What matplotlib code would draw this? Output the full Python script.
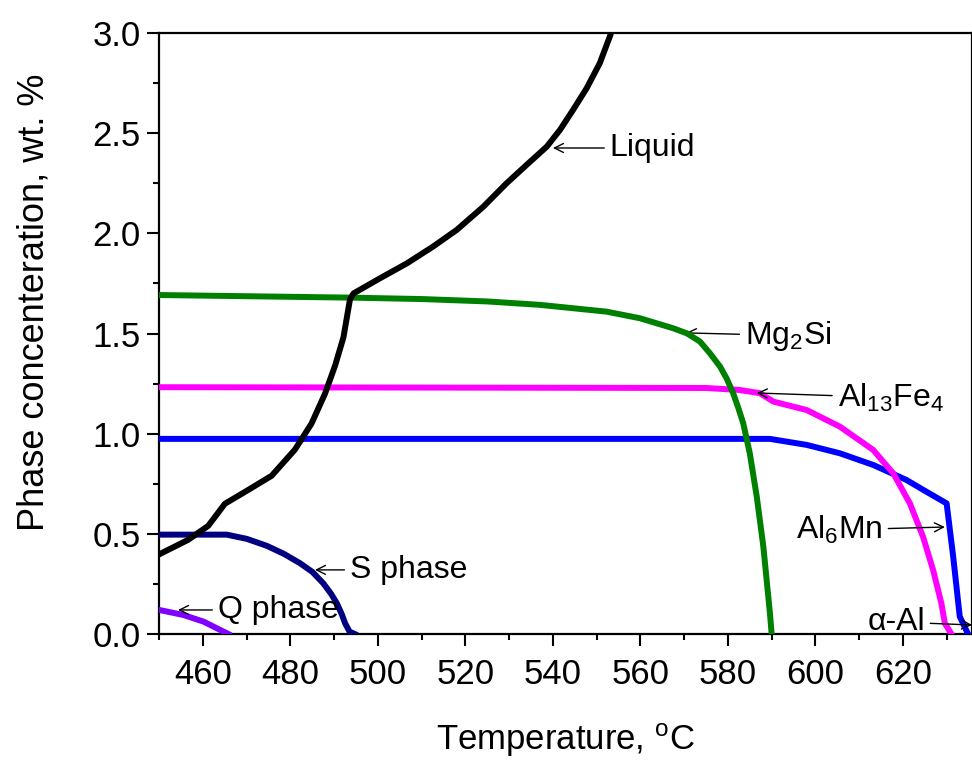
import matplotlib
matplotlib.use("Agg")
import matplotlib.pyplot as plt
from matplotlib.ticker import MultipleLocator

plt.rcParams['font.family'] = ['Liberation Sans', 'DejaVu Sans']
plt.rcParams['mathtext.fontset'] = 'custom'
plt.rcParams['mathtext.rm'] = 'Liberation Sans'
plt.rcParams['mathtext.it'] = 'Liberation Sans'

# ---- data ----
liquid_T = [450.2, 456.6, 461.2, 465.0, 470.4, 475.7, 481.0, 484.8, 487.9, 490.2, 492.1, 493.6,
            494.4, 500.5, 506.6, 512.6, 518.0, 524.1, 529.4, 534.0, 538.6, 541.6, 544.6,
            547.7, 550.7, 553.0, 555.3]
liquid_c = [0.40, 0.47, 0.54, 0.65, 0.72, 0.79, 0.92, 1.05, 1.20, 1.34, 1.48, 1.67,
            1.70, 1.776, 1.85, 1.934, 2.017, 2.133, 2.25, 2.342, 2.433, 2.516, 2.616,
            2.724, 2.849, 2.982, 3.13]

mg2si_T = [450.0, 494.0, 510.0, 525.0, 537.0, 552.3, 559.9, 567.5, 570.6, 573.6, 575.9,
           578.2, 579.7, 581.2, 582.4, 583.5, 585.0, 586.6, 588.1, 589.6, 590.0]
mg2si_c = [1.692, 1.679, 1.672, 1.660, 1.643, 1.609, 1.576, 1.526, 1.501, 1.460, 1.401,
           1.335, 1.276, 1.202, 1.127, 1.052, 0.902, 0.685, 0.436, 0.105, 0.0]

al13fe4_T = [450.0, 575.0, 582.7, 587.3, 590.4, 598.0, 605.6, 613.2, 617.8, 621.6, 624.6,
             626.9, 628.8, 629.6, 631.1]
al13fe4_c = [1.232, 1.228, 1.218, 1.202, 1.160, 1.118, 1.035, 0.919, 0.802, 0.652, 0.486,
             0.320, 0.153, 0.053, 0.0]

al6mn_T = [450.0, 589.6, 598.0, 605.6, 613.2, 620.8, 625.4, 630.0, 631.5, 633.0, 634.9]
al6mn_c = [0.974, 0.974, 0.944, 0.902, 0.844, 0.769, 0.710, 0.652, 0.386, 0.087, 0.0]

s_T = [450.0, 465.4, 470.0, 474.6, 478.5, 482.2, 485.0, 487.5, 489.3, 490.6, 491.7, 492.5,
       493.5, 494.7]
s_c = [0.496, 0.496, 0.475, 0.440, 0.400, 0.353, 0.310, 0.253, 0.200, 0.153, 0.100, 0.053,
       0.012, 0.0]

q_T = [450.0, 455.5, 460.1, 465.8]
q_c = [0.120, 0.095, 0.062, 0.0]

x_ticks = [460, 480, 500, 520, 540, 560, 580, 600, 620]
y_ticks = [0.0, 0.5, 1.0, 1.5, 2.0, 2.5, 3.0]
y_tick_labels = ['0.0', '0.5', '1.0', '1.5', '2.0', '2.5', '3.0']

fig = plt.figure(figsize=(9.72, 7.6), dpi=100)
ax = fig.add_axes([159.25 / 972, 1 - 634 / 760, (972 - 159.25) / 972, (634 - 33) / 760])

lw = 4.3
ax.plot(al6mn_T, al6mn_c, color='#0000ff', lw=lw, zorder=3)
ax.plot(al13fe4_T, al13fe4_c, color='#ff00ff', lw=lw, zorder=3)
ax.plot(mg2si_T, mg2si_c, color='#008000', lw=lw, zorder=4)
ax.plot(s_T, s_c, color='#000080', lw=lw, zorder=3)
ax.plot(q_T, q_c, color='#8000ff', lw=lw, zorder=3)
ax.plot(liquid_T, liquid_c, color='black', lw=lw, zorder=5)

ax.set_xlim(450, 635.8)
ax.set_ylim(0, 3.0)

ax.xaxis.set_minor_locator(MultipleLocator(10))
ax.yaxis.set_minor_locator(MultipleLocator(0.25))
ax.set_xticks(x_ticks)
ax.set_yticks(y_ticks)
ax.set_yticklabels(y_tick_labels)

ax.tick_params(which='major', direction='out', length=8.5, width=1.5, labelsize=25)
ax.tick_params(which='minor', direction='out', length=4.5, width=1.5)
ax.tick_params(axis='x', which='major', pad=9)
ax.tick_params(axis='y', which='major', pad=5)
for s in ax.spines.values():
    s.set_linewidth(1.6)

ax.set_xlabel('Temperature, $\\mathdefault{^{o}}$C', fontsize=25, labelpad=22)
ax.set_ylabel('Phase concenteration, wt. %', fontsize=26)
ax.yaxis.set_label_coords(-0.133, 0.552)

ap = dict(arrowstyle='->', lw=1.0, color='black', shrinkA=2, shrinkB=0,
          mutation_scale=16)
fs = 23
ax.annotate('Liquid', xy=(540.0, 2.426), xytext=(553.0, 2.426), fontsize=fs,
            ha='left', va='center', arrowprops=ap)
ax.annotate('Mg$_2$Si', xy=(570.4, 1.503), xytext=(583.9, 1.49), fontsize=fs,
            ha='left', va='center', arrowprops=ap)
ax.annotate('Al$_{13}$Fe$_4$', xy=(586.6, 1.203), xytext=(605.1, 1.18), fontsize=fs,
            ha='left', va='center', arrowprops=ap)
ax.annotate('Al$_6$Mn', xy=(629.6, 0.534), xytext=(615.4, 0.52), fontsize=fs,
            ha='right', va='center', arrowprops=ap)
ax.annotate('S phase', xy=(485.6, 0.32), xytext=(493.6, 0.32), fontsize=fs,
            ha='left', va='center', arrowprops=ap)
ax.annotate('Q phase', xy=(454.3, 0.12), xytext=(463.4, 0.12), fontsize=fs,
            ha='left', va='center', arrowprops=ap)
ax.annotate('α-Al', xy=(635.8, 0.045), xytext=(625.0, 0.06), fontsize=fs,
            ha='right', va='center', arrowprops=ap, annotation_clip=False)

fig.savefig('out.png', dpi=100)
